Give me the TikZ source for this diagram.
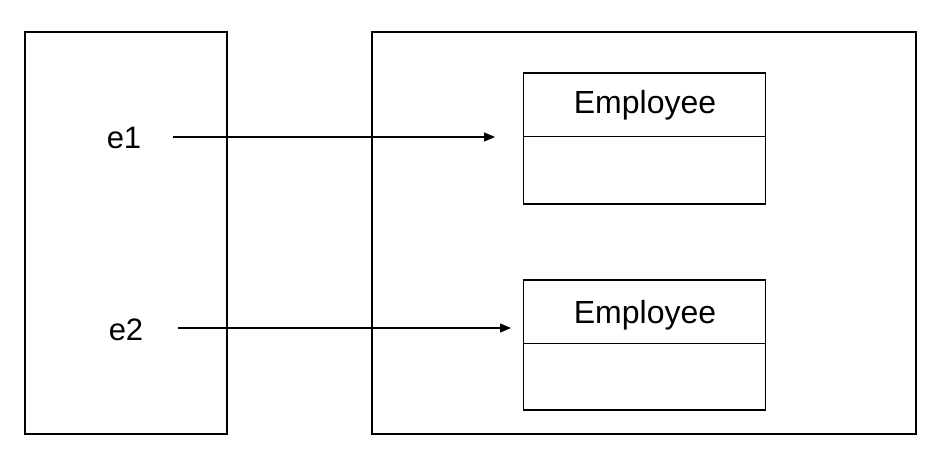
\documentclass[tikz,border=0pt]{standalone}
\usepackage{fontspec}
\setmainfont{Liberation Sans}
\usetikzlibrary{arrows.meta}
\begin{document}
\begin{tikzpicture}[x=1pt,y=-1pt,
  box/.style={draw,line width=1.1pt,inner sep=0pt},
  part/.style={inner sep=0pt,minimum width=242pt},
  lbl/.style={font=\fontsize{31}{31}\selectfont,inner sep=0pt,anchor=base},
  ename/.style={font=\fontsize{32}{32}\selectfont,inner sep=0pt,anchor=base},
  rule/.style={line width=1.1pt},
  ref/.style={line width=1.1pt,-{Triangle[length=11pt,width=9pt]}}]
\useasboundingbox (0,0) rectangle (945,463);
% outer boxes
\node[box,minimum width=202pt,minimum height=402pt] (stack) at (126,233) {};
\node[box,minimum width=544pt,minimum height=402pt] (heap) at (644,233) {};
% employee 1
\node[box,minimum width=242pt,minimum height=131pt] (emp1) at (644.5,138.5) {};
\node[part,minimum height=63.5pt,anchor=north] (emp1top) at (emp1.north) {};
\draw[rule] (emp1top.south west) -- (emp1top.south east);
\node[ename] (emp1lbl) at (645,113) {Employee};
% employee 2
\node[box,minimum width=242pt,minimum height=130pt] (emp2) at (644.5,345) {};
\node[part,minimum height=63.5pt,anchor=north] (emp2top) at (emp2.north) {};
\draw[rule] (emp2top.south west) -- (emp2top.south east);
\node[ename] (emp2lbl) at (645,323) {Employee};
% references
\node[lbl] (e1) at (124,148) {e1};
\node[lbl] (e2) at (126,340) {e2};
\coordinate (e1s) at (173,137);
\coordinate (e1t) at (495,137);
\coordinate (e2s) at (178,328);
\coordinate (e2t) at (511,328);
\draw[ref] (e1s) -- (e1t);
\draw[ref] (e2s) -- (e2t);
\end{tikzpicture}
\end{document}
